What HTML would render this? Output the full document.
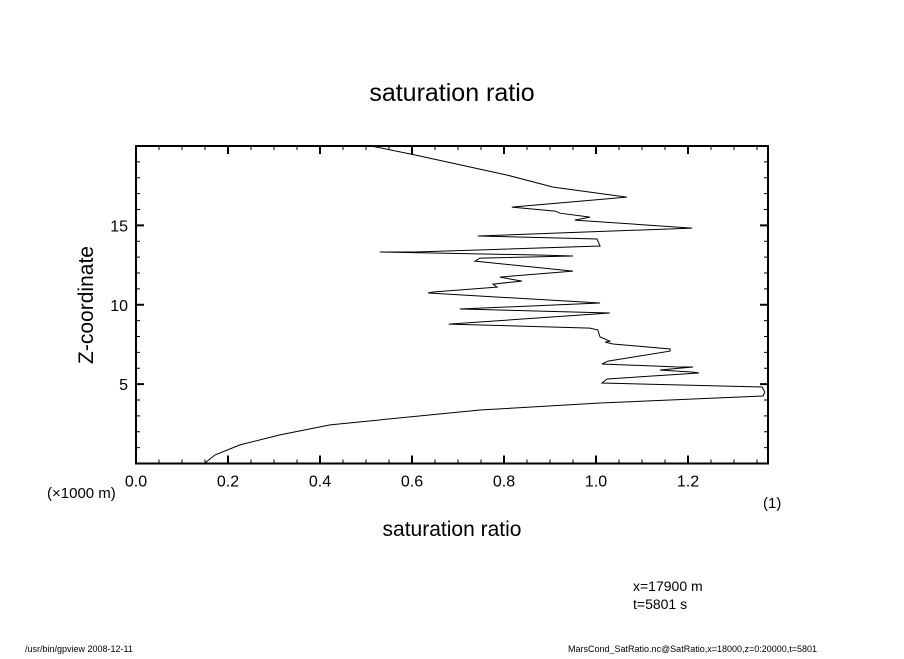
<!DOCTYPE html>
<html><head><meta charset="utf-8"><style>
body{margin:0;background:#fff;}
svg text{font-family:"Liberation Sans","DejaVu Sans",sans-serif;fill:#000;}
</style></head><body>
<svg id="chart" width="904" height="654" viewBox="0 0 904 654" xmlns="http://www.w3.org/2000/svg">
<rect width="904" height="654" fill="#fff"/>
<text x="452" y="101" font-size="25" text-anchor="middle">saturation ratio</text>
<g id="axes"></g>
<path id="curve" fill="none" stroke="#000" stroke-width="1"/>
<text x="452" y="536" font-size="21" text-anchor="middle">saturation ratio</text>
<text transform="translate(93,305) rotate(-90)" font-size="21" text-anchor="middle">Z-coordinate</text>
<text x="47" y="498" font-size="15">(×1000 m)</text>
<text x="763" y="508" font-size="15">(1)</text>
<text x="633" y="591" font-size="14">x=17900 m</text>
<text x="633" y="609" font-size="14">t=5801 s</text>
<text x="25" y="652" font-size="9">/usr/bin/gpview   2008-12-11</text>
<text x="568" y="652" font-size="9">MarsCond_SatRatio.nc@SatRatio,x=18000,z=0:20000,t=5801</text>
</svg>
<script>
const satRatio=[0.150,0.172,0.226,0.313,0.422,0.574,0.748,1.009,1.363,1.367,1.361,1.013,1.024,1.224,1.211,1.139,1.211,1.178,1.013,1.026,1.161,1.161,1.037,1.020,1.030,1.009,1.004,0.987,0.680,1.030,0.704,1.009,0.635,0.646,0.785,0.776,0.839,0.791,0.950,0.737,0.748,0.950,0.885,0.530,0.607,1.009,1.002,0.743,1.209,0.954,0.987,0.922,0.911,0.817,1.067,0.907,0.807,0.607,0.513];
const zKm=[0.03,0.54,1.17,1.80,2.43,2.87,3.37,3.81,4.25,4.50,4.82,5.07,5.32,5.70,5.76,5.89,6.08,6.08,6.27,6.45,7.08,7.21,7.53,7.65,7.71,7.97,8.41,8.53,8.78,9.48,9.73,10.11,10.74,10.80,11.11,11.30,11.49,11.74,12.12,12.75,12.94,13.07,13.13,13.32,13.32,13.70,14.14,14.33,14.83,15.33,15.52,15.77,15.90,16.15,16.78,17.41,18.17,19.43,19.99];
const xTickLabels=["0.0","0.2","0.4","0.6","0.8","1.0","1.2"];
const yTickLabels=["5","10","15"];
const X0=136,X1=768,Y0=463.5,Y1=146;
const xMax=(X1-X0)/460, zMax=20;
function sx(v){return X0+v*460;}
function sy(v){return Y0-(v/zMax)*(Y0-Y1);}
const NS="http://www.w3.org/2000/svg";
const ax=document.getElementById('axes');
function line(x1,y1,x2,y2,w,name){const l=document.createElementNS(NS,'line');l.setAttribute('x1',x1);l.setAttribute('y1',y1);l.setAttribute('x2',x2);l.setAttribute('y2',y2);l.setAttribute('stroke','#000');l.setAttribute('stroke-width',w);


ax.appendChild(l);}
const fr=document.createElementNS(NS,'rect');
fr.setAttribute('x',X0);fr.setAttribute('y',Y1);fr.setAttribute('width',X1-X0);fr.setAttribute('height',Y0-Y1);fr.setAttribute('fill','none');fr.setAttribute('stroke','#000');fr.setAttribute('stroke-width','2');


ax.appendChild(fr);
for(let i=0;i*0.05<=xMax+1e-9;i++){const v=i*0.05,x=sx(v),maj=i%4===0,L=maj?8:4;
line(x,Y0,x,Y0-L,maj?2:1,'x-tick');line(x,Y1,x,Y1+L,maj?2:1,'x-tick-top');}
for(let z=1;z<zMax;z++){const y=sy(z),maj=z%5===0,L=maj?8:4;
line(X0,y,X0+L,y,maj?2:1,'y-tick');line(X1,y,X1-L,y,maj?2:1,'y-tick-right');}
xTickLabels.forEach((t,i)=>{const e=document.createElementNS(NS,'text');e.setAttribute('x',sx(parseFloat(t)));e.setAttribute('y',Y0+23);e.setAttribute('font-size','16');e.setAttribute('text-anchor','middle');e.textContent=t;


ax.appendChild(e);});
yTickLabels.forEach(t=>{const e=document.createElementNS(NS,'text');e.setAttribute('x',X0-8);e.setAttribute('y',sy(parseFloat(t))+6);e.setAttribute('font-size','16');e.setAttribute('text-anchor','end');e.textContent=t;


ax.appendChild(e);});
document.getElementById('curve').setAttribute('d',satRatio.map((v,i)=>(i?'L':'M')+sx(v).toFixed(1)+','+sy(zKm[i]).toFixed(1)).join(' '));
</script>
</body></html>
